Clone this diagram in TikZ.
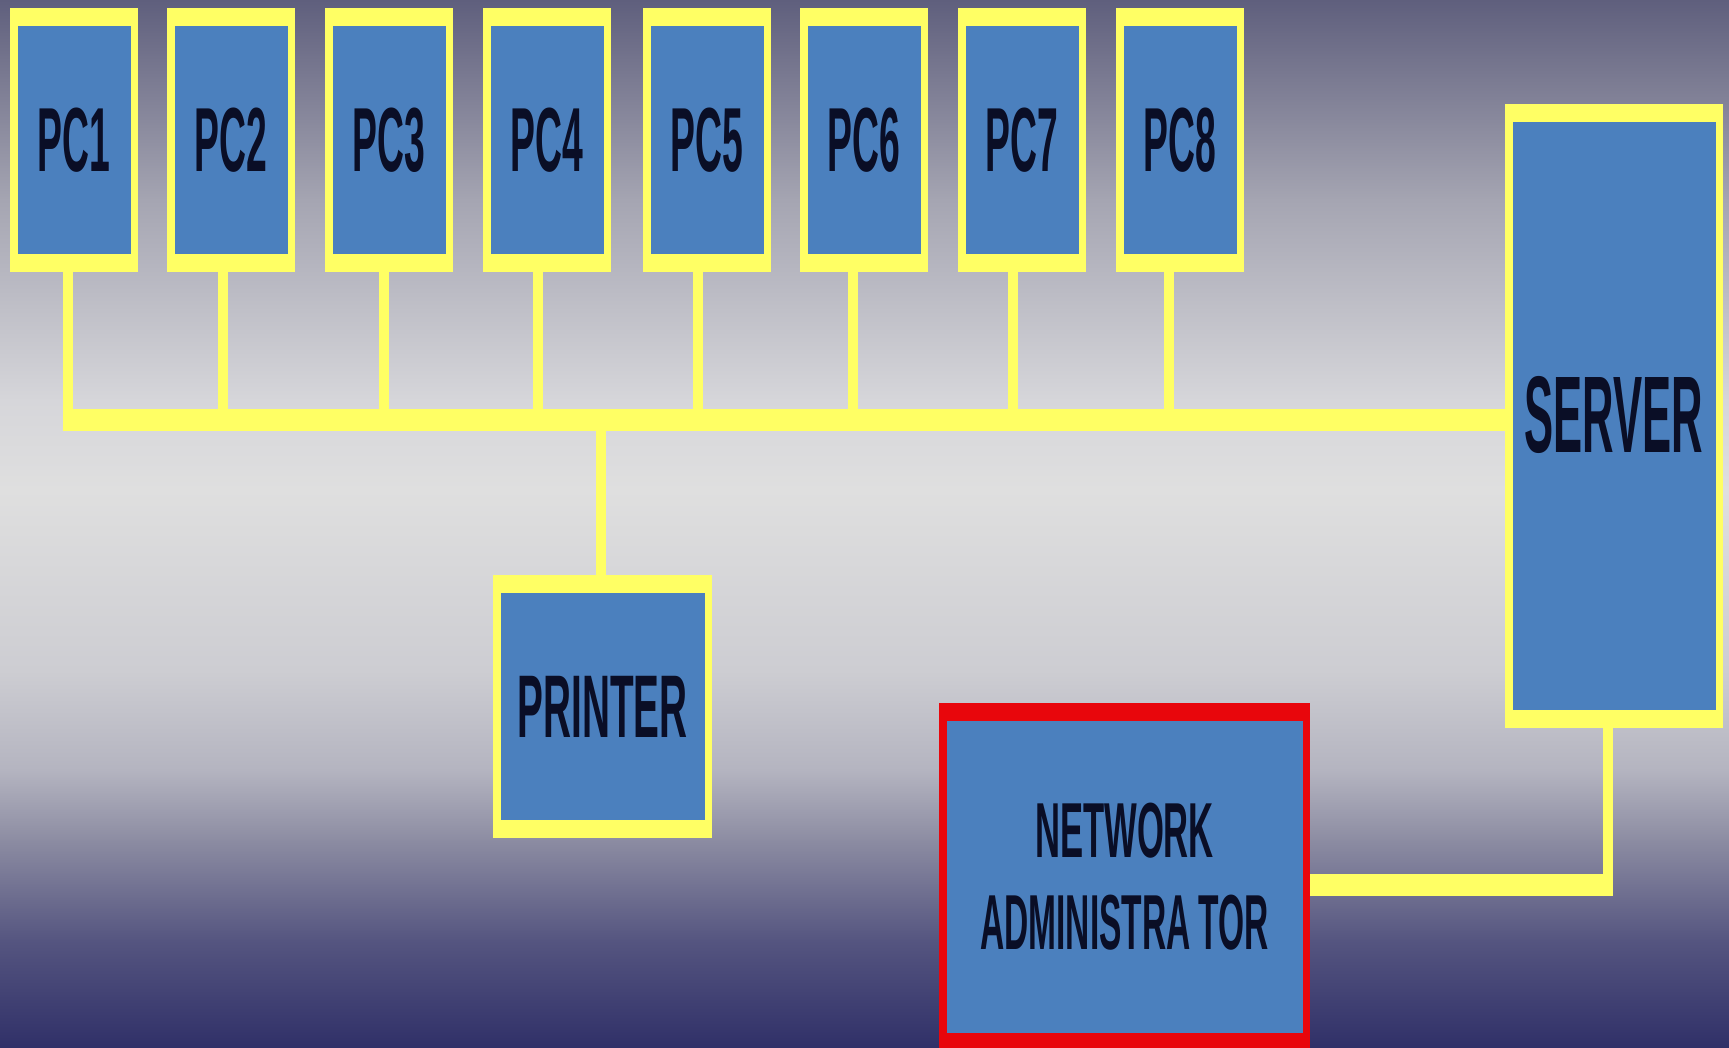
\documentclass[tikz,border=0pt]{standalone}
\usepackage{fontspec}
\usepackage{graphicx}
\setmainfont{Liberation Sans}
\definecolor{wireyellow}{RGB}{255,255,100}
\definecolor{boxblue}{RGB}{75,128,190}
\definecolor{adminred}{RGB}{232,6,12}
\definecolor{labelink}{RGB}{10,14,38}
\definecolor{bgA}{RGB}{95,95,125}
\definecolor{bgB}{RGB}{165,165,178}
\definecolor{bgC}{RGB}{214,214,218}
\definecolor{bgD}{RGB}{223,223,223}
\definecolor{bgE}{RGB}{205,205,210}
\definecolor{bgF}{RGB}{180,180,192}
\definecolor{bgG}{RGB}{140,140,162}
\definecolor{bgH}{RGB}{85,85,128}
\definecolor{bgI}{RGB}{48,48,104}
\tikzset{
  framebox/.style={rectangle, inner sep=0pt, fill=#1, text=labelink,
    path picture={\fill[boxblue]
      ([xshift=7.5pt,yshift=18pt]path picture bounding box.south west) rectangle
      ([xshift=-7.5pt,yshift=-18pt]path picture bounding box.north east);}},
  pcbox/.style={framebox=wireyellow, minimum width=128pt, minimum height=264pt,
    font=\fontsize{91}{91}\selectfont\bfseries},
  hwire/.style={wireyellow, line width=22pt},
  vwire/.style={wireyellow, line width=10pt},
  bgband/.style={shading=axis, top color=#1}
}
\begin{document}
\begin{tikzpicture}[x=1pt, y=-1pt]
\useasboundingbox (0,0) rectangle (1729,1048);
\clip (0,0) rectangle (1729,1048);
% background: slate at the top, pale grey band, navy at the bottom
\shade[top color=bgA, bottom color=bgB] (0,0) rectangle (1729,201);
\shade[top color=bgB, bottom color=bgC] (0,200) rectangle (1729,401);
\shade[top color=bgC, bottom color=bgD] (0,400) rectangle (1729,491);
\shade[top color=bgD, bottom color=bgE] (0,490) rectangle (1729,671);
\shade[top color=bgE, bottom color=bgF] (0,670) rectangle (1729,771);
\shade[top color=bgF, bottom color=bgG] (0,770) rectangle (1729,841);
\shade[top color=bgG, bottom color=bgH] (0,840) rectangle (1729,941);
\shade[top color=bgH, bottom color=bgI] (0,940) rectangle (1729,1048);

% workstations
\foreach \i/\cx in {1/74,2/231,3/389,4/547,5/707,6/864,7/1022,8/1180}
  \node[pcbox] (pc\i) at (\cx,140) {\scalebox{0.41}[1]{PC\i}};

% server, printer and administrator console
\node[framebox=wireyellow, minimum width=218pt, minimum height=624pt,
      font=\fontsize{109}{109}\selectfont\bfseries]
  (server) at (1614,416) {\raisebox{4pt}{\scalebox{0.40}[1]{SERVER}}};
\node[framebox=wireyellow, minimum width=219pt, minimum height=263pt,
      font=\fontsize{89}{89}\selectfont\bfseries]
  (printer) at (602.5,706.5) {\scalebox{0.435}[1]{PRINTER}};
\node[framebox=adminred, minimum width=371pt, minimum height=348pt, align=center,
      font=\fontsize{78}{92}\selectfont\bfseries]
  (admin) at (1124.5,877)
  {\scalebox{0.444}[1]{NETWORK}\\\scalebox{0.43}[1]{ADMINISTRA\kern18pt TOR}};

% shared bus
\coordinate (busy) at (0,420);
\coordinate (busstart) at ([xshift=-11pt]pc1.south |- busy);
\draw[hwire] (busstart) -- (server.west |- busy);
\foreach \i/\o in {1/-6,2/-8,3/-5,4/-9,5/-9,6/-11,7/-9,8/-11}
  \draw[vwire] ([xshift=\o pt]pc\i.south) -- ([xshift=\o pt]pc\i.south |- busy);
\draw[vwire] ([xshift=-1.5pt]printer.north |- busy) -- ([xshift=-1.5pt]printer.north);

% administrator link to the server
\coordinate (alinky) at (0,885);
\coordinate (srvdrop) at ([xshift=-6.5pt]server.south);
\coordinate (corner) at (srvdrop |- alinky);
\draw[hwire] (admin.east |- alinky) -- ([xshift=5pt]corner);
\draw[vwire] ([yshift=-11pt]corner) -- (srvdrop);
\end{tikzpicture}
\end{document}
